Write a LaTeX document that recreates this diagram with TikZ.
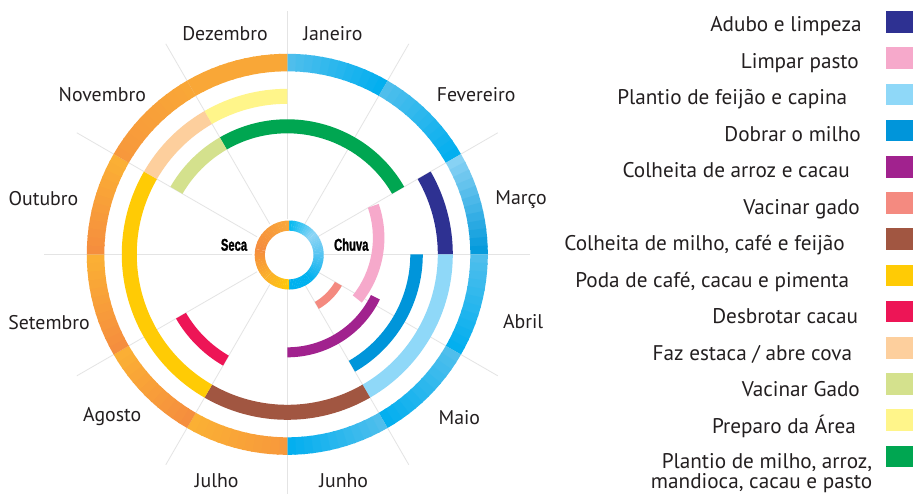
\documentclass[tikz,border=0pt]{standalone}
\usepackage{fontspec}
\setmainfont{PT Sans}
\newfontfamily\condfont[FakeStretch=0.66, BoldFeatures={FakeBold=1.2}]{Liberation Sans}
\definecolor{txt}{HTML}{231F20}
\definecolor{spokec}{HTML}{E4E4E4}
% outer ring
\definecolor{bA}{HTML}{52BFEC}\definecolor{bB}{HTML}{00AEEF}
\definecolor{bC}{HTML}{8DD4F5}\definecolor{bD}{HTML}{0098DB}
\definecolor{oA}{HTML}{FBB134}\definecolor{oB}{HTML}{F58C3F}
\definecolor{oC}{HTML}{F7983C}\definecolor{oD}{HTML}{F9A737}
% inner ring
\definecolor{ch1}{HTML}{00B9F1}\definecolor{ch2}{HTML}{8ED5F5}
\definecolor{ch3}{HTML}{55C4F2}\definecolor{ch4}{HTML}{00B1EF}
\definecolor{se1}{HTML}{F9A93A}\definecolor{se2}{HTML}{F58C3F}
\definecolor{se3}{HTML}{FBB02B}\definecolor{se4}{HTML}{FFC907}
% activities
\definecolor{cAdubo}{HTML}{2E3192}
\definecolor{cLimpar}{HTML}{F6A9CB}
\definecolor{cFeijao}{HTML}{8FD8F8}
\definecolor{cDobrar}{HTML}{0095DA}
\definecolor{cArroz}{HTML}{A1228E}
\definecolor{cVacina}{HTML}{F48A80}
\definecolor{cColMilho}{HTML}{A15641}
\definecolor{cPoda}{HTML}{FFCB05}
\definecolor{cDesbrotar}{HTML}{ED1556}
\definecolor{cEstaca}{HTML}{FDCF9D}
\definecolor{cVacinaG}{HTML}{D4E18D}
\definecolor{cPreparo}{HTML}{FFF58A}
\definecolor{cPlantio}{HTML}{00A651}
% gradient band: angle1, angle2, colour at angle1, colour at angle2, r inner, r outer
\newcommand\gseg[6]{%
  \foreach \k in {0,...,11}{%
    \pgfmathsetmacro\aa{#1+(#2-#1)*\k/12}%
    \pgfmathsetmacro\bb{#1+(#2-#1)*(\k+1)/12+((\k<11)?(0.5*sign(#2-#1)):0)}%
    \pgfmathtruncatemacro\pp{round(100*(\k+0.5)/12)}%
    \fill[#4!\pp!#3] (\aa:#6) arc[start angle=\aa, end angle=\bb, radius=#6]
      -- (\bb:#5) arc[start angle=\bb, end angle=\aa, radius=#5] -- cycle;
  }%
}
% flat band: angle1, angle2, r inner, r outer, colour
\newcommand\band[5]{%
  \fill[#5] (#1:#4) arc[start angle=#1, end angle=#2, radius=#4]
    -- (#2:#3) arc[start angle=#2, end angle=#1, radius=#3] -- cycle;%
}
\begin{document}
\begin{tikzpicture}[x=1pt, y=-1pt,
  month/.style={text=txt, inner sep=0pt, font=\fontsize{19.8}{22}\selectfont, anchor=base},
  legtext/.style={text=txt, inner sep=0pt, font=\fontsize{21.2}{24}\selectfont, anchor=base east},
  legsq/.style={rectangle, inner sep=0pt, minimum width=26.7pt, minimum height=21.7pt},
  condlabel/.style={text=black, inner sep=0pt, anchor=base, font=\condfont\bfseries\fontsize{17}{20}\selectfont},
  spoke/.style={draw=spokec, line width=0.8pt}]
\useasboundingbox (0,0) rectangle (917,493);
\fill[white] (0,0) rectangle (917,493);
\begin{scope}
\clip (0,0) rectangle (917,493);
\begin{scope}[shift={(287.3,254.3)}]
  % spokes
  \foreach \a in {0,30,...,330} \draw[spoke] (\a:35pt) -- (\a:243pt);
  % outer ring: months
  \gseg{90}{60}{bA}{bB}{183pt}{200.5pt}
  \gseg{60}{30}{bA}{bB}{183pt}{200.5pt}
  \gseg{30}{0}{bC}{bD}{183pt}{200.5pt}
  \gseg{0}{-30}{bA}{bB}{183pt}{200.5pt}
  \gseg{-30}{-60}{bA}{bB}{183pt}{200.5pt}
  \gseg{-60}{-90}{bA}{bB}{183pt}{200.5pt}
  \gseg{-90}{-120}{oC}{oA}{183pt}{200.5pt}
  \gseg{-120}{-150}{oB}{oA}{183pt}{200.5pt}
  \gseg{-150}{-180}{oB}{oA}{183pt}{200.5pt}
  \gseg{180}{150}{oB}{oA}{183pt}{200.5pt}
  \gseg{150}{120}{oC}{oD}{183pt}{200.5pt}
  \gseg{120}{90}{oD}{oD}{183pt}{200.5pt}
  % ring 2
  \band{0}{30}{150.5pt}{165.5pt}{cAdubo}
  \band{-60}{0}{150.5pt}{165.5pt}{cFeijao}
  \band{-120}{-60}{150.5pt}{165.5pt}{cColMilho}
  \band{150}{240}{150.5pt}{165.5pt}{cPoda}
  \band{120}{150}{150.5pt}{165.5pt}{cEstaca}
  \band{90}{120}{150.5pt}{165.5pt}{cPreparo}
  % ring 3
  \band{30}{120}{121pt}{135pt}{cPlantio}
  \band{120}{150}{121pt}{135pt}{cVacinaG}
  \band{-60}{0}{123pt}{135.5pt}{cDobrar}
  \band{-150}{-120}{117pt}{128.5pt}{cDesbrotar}
  % ring 4
  \begin{scope}[shift={(-6.9pt,16.5pt)}]
    \band{-38.5}{19}{92.5pt}{104pt}{cLimpar}
  \end{scope}
  \band{-90}{-26}{93pt}{103pt}{cArroz}
  \band{-60}{-30}{55pt}{63pt}{cVacina}
  % seca / chuva ring
  \begin{scope}[shift={(1.9pt,-0.7pt)}]
    \gseg{90}{40}{ch1}{ch2}{24.3pt}{34.5pt}
    \gseg{40}{0}{ch2}{ch3}{24.3pt}{34.5pt}
    \gseg{0}{-50}{ch3}{ch4}{24.3pt}{34.5pt}
    \gseg{-50}{-90}{ch4}{ch4}{24.3pt}{34.5pt}
    \gseg{90}{170}{se1}{se2}{24.3pt}{34.5pt}
    \gseg{170}{225}{se2}{se3}{24.3pt}{34.5pt}
    \gseg{225}{270}{se3}{se4}{24.3pt}{34.5pt}
  \end{scope}
\end{scope}
\end{scope}
% ring labels
\node[condlabel] (seca) at (234,250.7) {Seca};
\node[condlabel] (chuva) at (351.3,250.7) {Chuva};
% months
\node[month] (jan) at (332.9,40.5) {Janeiro};
\node[month] (dez) at (225.0,40.5) {Dezembro};
\node[month] (fev) at (476.2,101.5) {Fevereiro};
\node[month] (nov) at (102.3,101.5) {Novembro};
\node[month] (mar) at (521.1,204) {Março};
\node[month] (out) at (43.4,205) {Outubro};
\node[month] (abr) at (523.1,328.5) {Abril};
\node[month] (set) at (49.0,329.5) {Setembro};
\node[month] (mai) at (459.3,424.5) {Maio};
\node[month] (ago) at (112.2,421.5) {Agosto};
\node[month] (jul) at (216.7,487) {Julho};
\node[month] (jun) at (343.7,487) {Junho};
% legend
\node[legsq, fill=cAdubo]     (s1) at (899.3,22.0) {};
\node[legsq, fill=cLimpar]    (s2) at (899.3,58.2) {};
\node[legsq, fill=cFeijao]    (s3) at (899.3,94.4) {};
\node[legsq, fill=cDobrar]    (s4) at (899.3,130.6) {};
\node[legsq, fill=cArroz]     (s5) at (899.3,166.8) {};
\node[legsq, fill=cVacina]    (s6) at (899.3,203.0) {};
\node[legsq, fill=cColMilho]  (s7) at (899.3,239.2) {};
\node[legsq, fill=cPoda]      (s8) at (899.3,275.4) {};
\node[legsq, fill=cDesbrotar] (s9) at (899.3,311.6) {};
\node[legsq, fill=cEstaca]    (s10) at (899.3,347.8) {};
\node[legsq, fill=cVacinaG]   (s11) at (899.3,384.0) {};
\node[legsq, fill=cPreparo]   (s12) at (899.3,420.2) {};
\node[legsq, fill=cPlantio]   (s13) at (899.3,456.4) {};
\node[legtext] (t1) at (861.7,31.7) {Adubo e limpeza};
\node[legtext] (t2) at (859.0,68.2) {Limpar pasto};
\node[legtext] (t3) at (847.3,104.7) {Plantio de feijão e capina};
\node[legtext] (t4) at (861.0,141.2) {Dobrar o milho};
\node[legtext] (t5) at (850.0,177.7) {Colheita de arroz e cacau};
\node[legtext] (t6) at (860.0,214.2) {Vacinar gado};
\node[legtext] (t7) at (845.0,250.7) {Colheita de milho, café e feijão};
\node[legtext] (t8) at (849.3,287.2) {Poda de café, cacau e pimenta};
\node[legtext] (t9) at (858.3,323.7) {Desbrotar cacau};
\node[legtext] (t10) at (852.3,360.2) {Faz estaca / abre cova};
\node[legtext] (t11) at (860.0,396.7) {Vacinar Gado};
\node[legtext] (t12) at (856.0,433.2) {Preparo da Área};
\node[legtext, align=right, font={\fontsize{21.2}{20.6}\selectfont\lineskiplimit=-30pt}] (t13) at (872.3,488.8) {Plantio de milho, arroz,\\mandioca, cacau e pasto};
\end{tikzpicture}
\end{document}
